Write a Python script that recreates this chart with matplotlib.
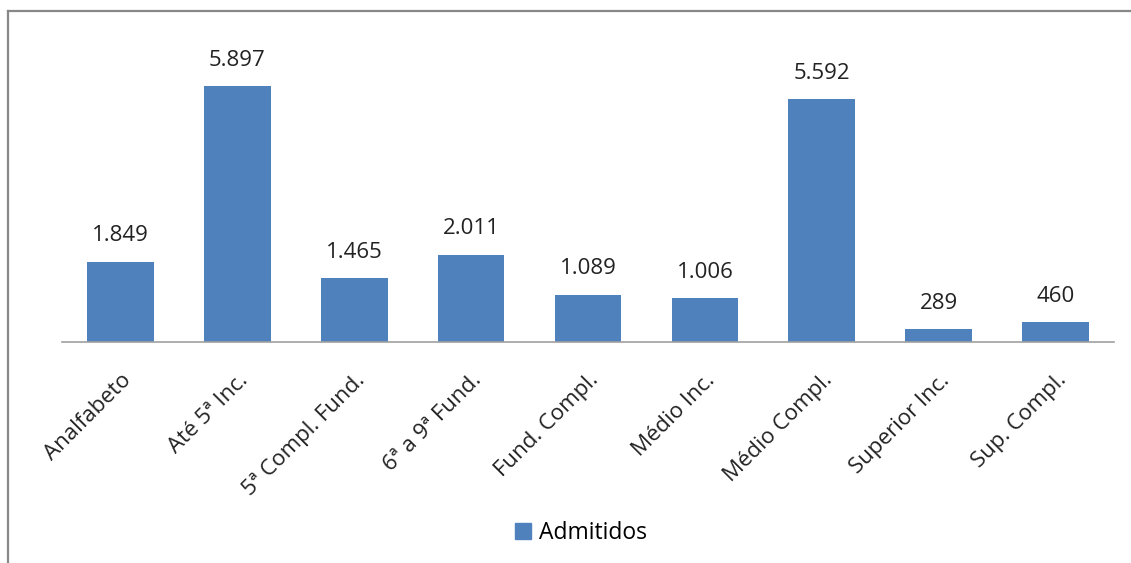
import matplotlib.pyplot as plt
from matplotlib.lines import Line2D
from matplotlib.patches import Patch

plt.rcParams['font.family'] = ['Open Sans', 'DejaVu Sans']

categorias = ['Analfabeto', 'Até 5ª Inc.', '5ª Compl. Fund.', '6ª a 9ª Fund.',
              'Fund. Compl.', 'Médio Inc.', 'Médio Compl.', 'Superior Inc.',
              'Sup. Compl.']
admitidos = [1849, 5897, 1465, 2011, 1089, 1006, 5592, 289, 460]

cor = '#4f81bd'

fig = plt.figure(figsize=(11.31, 5.63), dpi=100)
ax = fig.add_axes([62 / 1131, 1 - 342 / 563, (1114 - 62) / 1131, (342 - 38) / 563])

x = range(len(categorias))
ax.bar(x, admitidos, width=0.57, color=cor)
ax.set_xlim(-0.5, len(categorias) - 0.5)
ax.set_ylim(0, 7000)

for i, v in zip(x, admitidos):
    ax.annotate(f'{v:,}'.replace(',', '.'), (i, v), xytext=(0, 11),
                textcoords='offset points', ha='center', va='bottom',
                fontsize=16, color='#222222')

ax.set_xticks(list(x))
ax.set_xticklabels(categorias, rotation=45, ha='right', rotation_mode='anchor',
                   fontsize=16, color='#222222')
ax.tick_params(axis='x', length=0, pad=20)
ax.set_yticks([])
for s in ['top', 'right', 'left']:
    ax.spines[s].set_visible(False)
ax.spines['bottom'].set_color('#a0a0a0')
ax.spines['bottom'].set_linewidth(1.2)

fig.legend(handles=[Patch(color=cor, label='Admitidos')], loc='center',
           bbox_to_anchor=(581 / 1131, 1 - 533 / 563), frameon=False,
           fontsize=16.5, handlelength=0.7, handleheight=0.7, handletextpad=0.35)

# moldura (apenas topo e esquerda visíveis)
fig.add_artist(Line2D([8 / 1131, 8 / 1131], [0, 1 - 11 / 563],
                      transform=fig.transFigure, color='#888888', lw=1.6))
fig.add_artist(Line2D([8 / 1131, 1], [1 - 11 / 563, 1 - 11 / 563],
                      transform=fig.transFigure, color='#888888', lw=1.6))

fig.savefig('out.png', dpi=100)
